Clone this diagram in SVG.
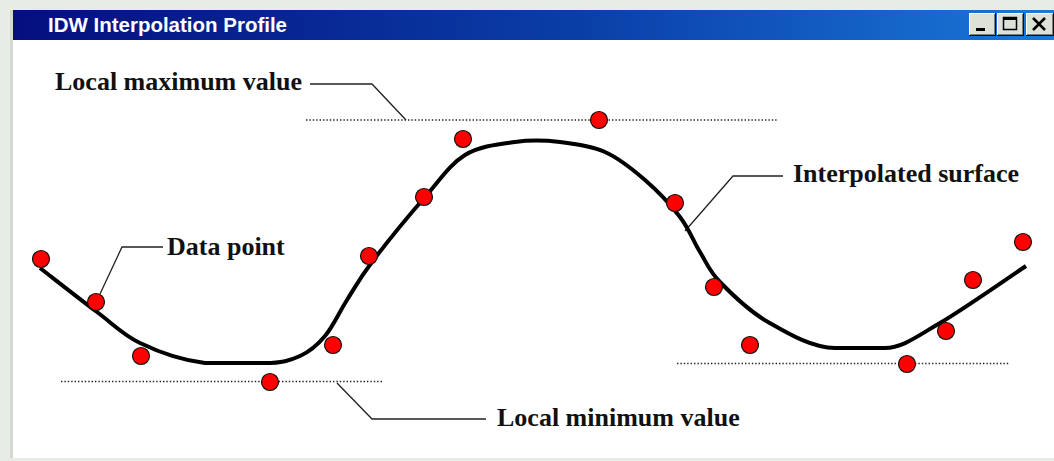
<svg xmlns="http://www.w3.org/2000/svg" width="1054" height="461" viewBox="0 0 1054 461">
<defs>
<linearGradient id="tb" x1="0" y1="0" x2="1" y2="0">
<stop offset="0" stop-color="#050e7e"/>
<stop offset="0.55" stop-color="#0a3fa8"/>
<stop offset="1" stop-color="#1a78d8"/>
</linearGradient>
<style>
.lbl{font-family:"Liberation Serif","Times New Roman",serif;font-weight:bold;font-size:26px;fill:#111}
.dot{fill:#ff0000;stroke:#111;stroke-width:1.2}
.ref{fill:none;stroke:#222;stroke-width:1.4;stroke-dasharray:1.4 2}
.lead{fill:none;stroke:#222;stroke-width:1.3}
.btn{fill:#dde1d8}
</style>
</defs>
<rect x="0" y="0" width="1054" height="461" fill="#e8ece6"/>
<rect x="10" y="10" width="1044" height="448" fill="#d3d9d1"/>
<rect x="13" y="40" width="1041" height="418" fill="#ffffff"/>
<g id="titlebar">
<rect x="13" y="10" width="1041" height="30" fill="url(#tb)"/>
<text x="48" y="32" font-family="Liberation Sans,Arial,sans-serif" font-weight="bold" font-size="19.5" fill="#ffffff" textLength="239" lengthAdjust="spacingAndGlyphs">IDW Interpolation Profile</text>
<g id="btn-min">
<rect x="969" y="13" width="27" height="23" fill="#101010"/>
<rect x="969" y="13" width="26" height="22" fill="#ffffff"/>
<rect x="970" y="14" width="25" height="21" fill="#7d807a"/>
<rect x="970" y="14" width="24" height="20" class="btn"/>
<rect x="976" y="28" width="9" height="3" fill="#000"/>
</g>
<g id="btn-max">
<rect x="997" y="13" width="27" height="23" fill="#101010"/>
<rect x="997" y="13" width="26" height="22" fill="#ffffff"/>
<rect x="998" y="14" width="25" height="21" fill="#7d807a"/>
<rect x="998" y="14" width="24" height="20" class="btn"/>
<rect x="1003.5" y="17.5" width="13" height="12" fill="none" stroke="#000" stroke-width="1.5"/>
<rect x="1003" y="17" width="14" height="3" fill="#000"/>
</g>
<g id="btn-close">
<rect x="1026" y="13" width="28" height="23" fill="#101010"/>
<rect x="1026" y="13" width="27" height="22" fill="#ffffff"/>
<rect x="1027" y="14" width="26" height="21" fill="#7d807a"/>
<rect x="1027" y="14" width="25" height="20" class="btn"/>
<path d="M1033,18 L1045,30 M1045,18 L1033,30" stroke="#000" stroke-width="2.6" fill="none"/>
</g>
</g>
<g id="connectors">
<line class="ref" x1="306" y1="120" x2="777" y2="120"/>
<line class="ref" x1="61" y1="381.5" x2="382" y2="381.5"/>
<line class="ref" x1="677" y1="363.5" x2="1009" y2="363.5"/>
<polyline class="lead" points="310,84 372,84 406,120"/>
<polyline class="lead" points="337,383 372,419 486,419"/>
<polyline class="lead" points="100,294 122,247 163,247"/>
<polyline class="lead" points="685,231 733,176 783,176"/>
</g>
<g id="surface">
<path fill="none" stroke="#000" stroke-width="4" stroke-linejoin="round" stroke-linecap="butt" d="M40,268 C49.5,275.3 80.3,299.5 97,312 C113.7,324.5 122.8,334.7 140,343 C157.2,351.3 179.2,360 205,363 L265,363 C281.7,363 290,360.5 300,356 C310,351.5 317.2,345.3 325,336 C332.8,326.7 339.2,312.3 347,300 C354.8,287.7 359,279.2 372,262 C385,244.8 409.5,214.8 425,197 C440.5,179.2 450,164.2 465,155 C480,145.8 499.2,144.2 515,142 C530.8,139.8 545,140.3 560,142 C575,143.7 590.8,145.7 605,152 C619.2,158.3 632.5,169.2 645,180 C657.5,190.8 670.8,205 680,217 C689.2,229 693.3,241.2 700,252 C706.7,262.8 708.7,270.3 720,282 C731.3,293.7 748.8,311 768,322 C787.2,333 812,348 835,348 L885,348 C902,348 916.5,336.7 940,323 C963.5,309.3 1011.7,275.5 1026,266"/>
</g>
<g id="data-points">
<circle class="dot" cx="41" cy="259" r="8.5"/>
<circle class="dot" cx="96" cy="302" r="8.5"/>
<circle class="dot" cx="141" cy="356" r="8.5"/>
<circle class="dot" cx="270" cy="382" r="8.5"/>
<circle class="dot" cx="333" cy="345" r="8.5"/>
<circle class="dot" cx="369" cy="256" r="8.5"/>
<circle class="dot" cx="424" cy="197" r="8.5"/>
<circle class="dot" cx="463" cy="139" r="8.5"/>
<circle class="dot" cx="599" cy="120" r="8.5"/>
<circle class="dot" cx="675" cy="203" r="8.5"/>
<circle class="dot" cx="714" cy="287" r="8.5"/>
<circle class="dot" cx="750" cy="345" r="8.5"/>
<circle class="dot" cx="907" cy="364" r="8.5"/>
<circle class="dot" cx="946" cy="331" r="8.5"/>
<circle class="dot" cx="973" cy="280" r="8.5"/>
<circle class="dot" cx="1023" cy="242" r="8.5"/>
</g>
<g id="labels">
<text class="lbl" x="55" y="90">Local maximum value</text>
<text class="lbl" x="167" y="255">Data point</text>
<text class="lbl" x="793" y="182">Interpolated surface</text>
<text class="lbl" x="497" y="426">Local minimum value</text>
</g>
</svg>
